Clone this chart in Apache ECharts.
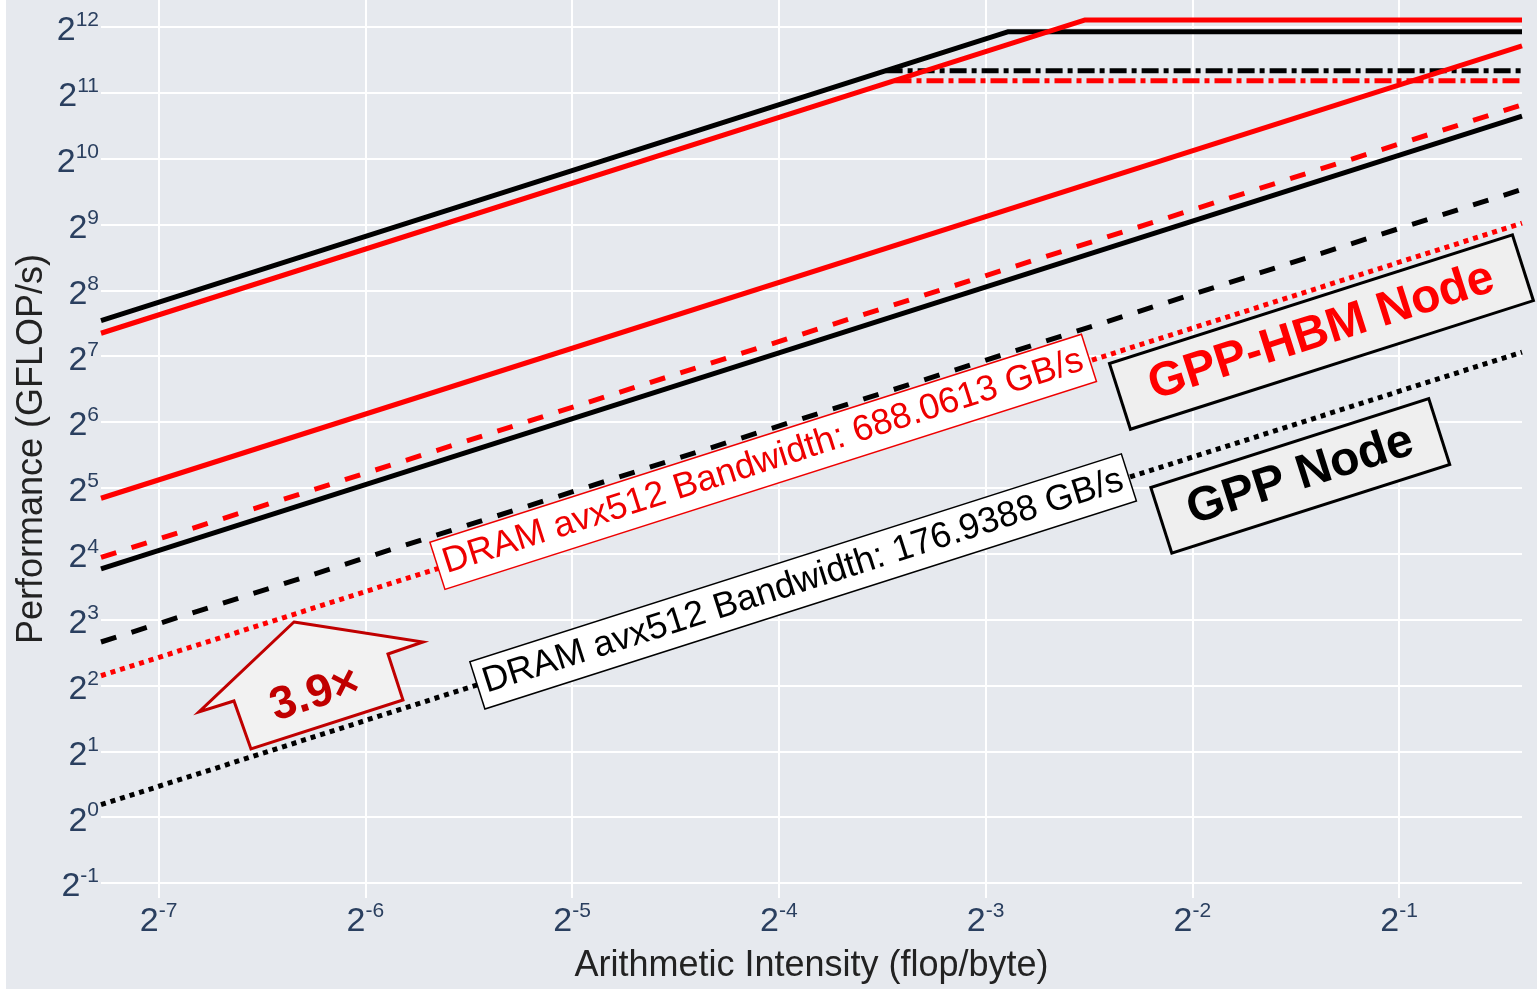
<!DOCTYPE html>
<html lang="en">
<head>
    <meta charset="UTF-8">
    <title>Roofline GPP vs GPP-HBM</title>
    <script type="text/javascript" src="https://cdn.jsdelivr.net/npm/echarts/dist/echarts.min.js"></script>
    <style>
        html,body{margin:0;padding:0;background:#fff;}
        #main{position:absolute;left:6px;top:0;width:1531px;height:989px;}
    </style>
</head>
<body>
<div id="main"></div>
<script type="text/javascript">
    // axis extents (flop/byte , GFLOP/s)
    var xMin = 0.00644, xMax = 0.755;
    var yMin = 0.427, yMax = 5440;
    var xTickPowers = [-7,-6,-5,-4,-3,-2,-1];
    var yTickPowers = [-1,0,1,2,3,4,5,6,7,8,9,10,11,12];

    // [arithmetic intensity, GFLOP/s]
    var gppRoof  = [[0.00644, 186], [0.1346, 3890], [0.755, 3890]];
    var hbmRoof  = [[0.00644, 163], [0.1746, 4410], [0.755, 4410]];
    var gppNoFma = [[0.0894, 2585], [0.755, 2585]];
    var hbmNoFma = [[0.0921, 2328], [0.755, 2328]];
    var hbmL2    = [[0.00644, 28.7], [0.755, 3360]];
    var hbmL3    = [[0.00644, 15.4], [0.755, 1804]];
    var gppL2    = [[0.00644, 13.65], [0.755, 1601]];
    var gppL3    = [[0.00644, 6.32], [0.755, 741]];
    var hbmDram  = [[0.00644, 4.43], [0.755, 519.5]];
    var gppDram  = [[0.00644, 1.14], [0.755, 133.6]];

    var hbmDramText = 'DRAM avx512 Bandwidth: 688.0613 GB/s';
    var gppDramText = 'DRAM avx512 Bandwidth: 176.9388 GB/s';
    var speedupText = '3.9×';

    var FONT = 'Liberation Sans';
    var SLOPE = 17.7;

    function powText(e){ return '{b|2}{s|' + e + '}'; }
    function xLabel(v){
        var e = Math.log2(v), r = Math.round(e);
        if(Math.abs(e - r) > 1e-6 || xTickPowers.indexOf(r) < 0) return '';
        return powText(r);
    }
    function yLabel(v){
        var r = Math.round(v);
        if(Math.abs(v - r) > 1e-6 || yTickPowers.indexOf(r) < 0) return '';
        return powText(r);
    }
    var richPow = {
        b:{fontSize:34, fontFamily:FONT, color:'#2a3f5f', padding:[4,0,0,0], lineHeight:34, verticalAlign:'top'},
        s:{fontSize:21, fontFamily:FONT, color:'#2a3f5f', lineHeight:21, verticalAlign:'top'}
    };
    var gridLine = {show:true, showMinLine:false, showMaxLine:false, lineStyle:{color:'#ffffff', width:2}};

    function roof(data, color, type){
        return {
            type:'line', data:data, symbol:'none', silent:true, animation:false,
            lineStyle:{color:color, width:5, type:type, cap:'butt'}
        };
    }
    function tag(pos, text, st){
        return {
            type:'scatter', data:[pos], symbolSize:0, silent:true, animation:false, z:10,
            itemStyle:{opacity:1},
            label:{
                show:true, position:'inside', formatter:text, rotate:SLOPE, opacity:1,
                fontFamily:FONT, fontSize:st.size, fontWeight:st.weight || 'normal',
                color:st.color, backgroundColor:st.bg, borderColor:st.border,
                borderWidth:st.bw, padding:st.pad, lineHeight:st.lh
            }
        };
    }

    var arrowPts = [[-17,-63],[112,-43],[77,-31],[92,15],[-60,64],[-77,16],[-112,27]];

    var myChart = echarts.init(document.getElementById('main'));
    var option = {
        backgroundColor:'#e6e9ee',
        grid:{left:94, right:15, top:0, bottom:87},
        xAxis:{
            type:'log', logBase:2, min:xMin, max:xMax, splitNumber:7,
            name:'Arithmetic Intensity (flop/byte)', nameLocation:'middle', nameGap:50,
            nameTextStyle:{fontSize:36, fontFamily:FONT, color:'#222'},
            axisLine:{show:false}, axisTick:{show:false},
            axisLabel:{formatter:xLabel, rich:richPow, margin:3, showMinLabel:false, showMaxLabel:false},
            splitLine:gridLine
        },
        yAxis:[{
            // data axis (log2), ticks drawn by the exponent axis below
            type:'log', logBase:2, min:yMin, max:yMax,
            name:'Performance (GFLOP/s)', nameLocation:'middle', nameGap:51, nameRotate:90,
            nameTextStyle:{fontSize:36, fontFamily:FONT, color:'#222'},
            axisLine:{show:false}, axisTick:{show:false}, axisLabel:{show:false}, splitLine:{show:false}
        },{
            type:'value', position:'left', min:Math.log2(yMin), max:Math.log2(yMax),
            splitNumber:14, minInterval:1, maxInterval:1,
            axisLine:{show:false}, axisTick:{show:false},
            axisLabel:{formatter:yLabel, rich:richPow, margin:2, showMinLabel:false, showMaxLabel:false},
            splitLine:gridLine
        }],
        series:[
            roof(gppDram, '#000000', [5,5]),
            roof(gppL3, '#000000', [16,16]),
            roof(gppL2, '#000000', 'solid'),
            roof(gppNoFma, '#000000', [17,5,5,5]),
            roof(gppRoof, '#000000', 'solid'),
            roof(hbmDram, '#ff0000', [5,5]),
            roof(hbmL3, '#ff0000', [16,16]),
            roof(hbmL2, '#ff0000', 'solid'),
            roof(hbmNoFma, '#ff0000', [17,5,5,5]),
            roof(hbmRoof, '#ff0000', 'solid'),
            tag([0.0593, 42.1], hbmDramText, {size:36, color:'#ee0000', bg:'#ffffff', border:'#ee0000', bw:1.5, pad:[4,6], lh:40}),
            tag([0.0678, 11.96], gppDramText, {size:36, color:'#000000', bg:'#ffffff', border:'#000000', bw:1.5, pad:[4,6], lh:40}),
            tag([0.3854, 165], 'GPP-HBM Node', {size:48, weight:'bold', color:'#ff0000', bg:'#efefef', border:'#000000', bw:3, pad:[5,30], lh:56}),
            tag([0.359, 36.3], 'GPP Node', {size:48, weight:'bold', color:'#000000', bg:'#efefef', border:'#000000', bw:3, pad:[5,27], lh:56}),
            {
                type:'custom', data:[[0.01302, 4.02]], silent:true, animation:false, z:10,
                renderItem:function(params, api){
                    var c = api.coord([api.value(0), api.value(1)]);
                    var pts = arrowPts.map(function(p){ return [c[0]+p[0], c[1]+p[1]]; });
                    return {
                        type:'group',
                        children:[
                            {type:'polygon', shape:{points:pts}, style:{fill:'#f2f2f2', stroke:'#c00000', lineWidth:3}},
                            {type:'text', x:c[0]+4, y:c[1]+10, rotation:SLOPE*Math.PI/180,
                             style:{text:speedupText, fill:'#c00000', font:'bold 46px "Liberation Sans"', align:'center', verticalAlign:'middle'}}
                        ]
                    };
                }
            }
        ]
    };
    myChart.setOption(option);
</script>
</body>
</html>
